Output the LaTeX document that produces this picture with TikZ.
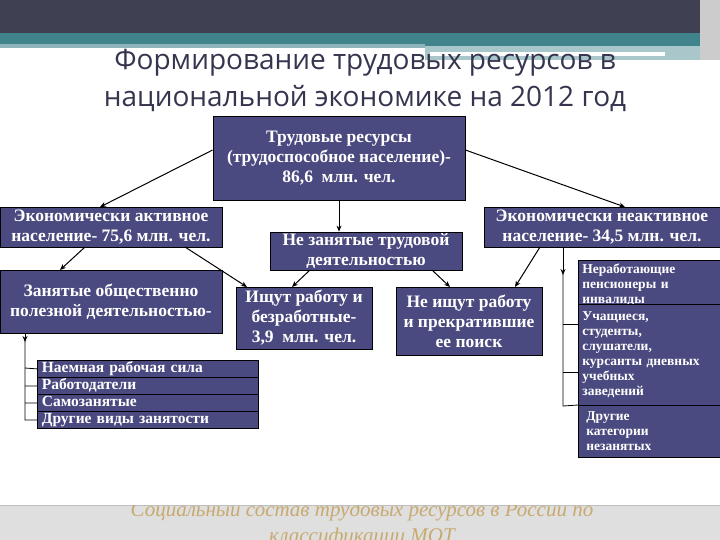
\documentclass[tikz,border=0pt]{standalone}
\usepackage{fontspec}
\setmainfont{Liberation Serif}
\newfontfamily\titlefont{Open Sans}
\usetikzlibrary{arrows.meta}
\definecolor{boxfill}{HTML}{4B4A80}
\definecolor{titlec}{HTML}{35354F}
\definecolor{topbar}{HTML}{3F4152}
\definecolor{teal}{HTML}{40838A}
\definecolor{gold}{HTML}{C8AA70}
\tikzset{
 bx/.style={draw=black,line width=0.8pt,fill=boxfill,text=white,font=\bfseries\fontsize{17.5}{20}\selectfont,align=center,inner sep=0pt},
 sm/.style={draw=black,line width=0.8pt,fill=boxfill,text=white,font=\bfseries\fontsize{13.5}{15}\selectfont,align=left,inner sep=3pt},
 ar/.style={-{Stealth[length=6pt,width=5pt]},line width=1pt},
 ln/.style={line width=0.8pt}
}
\begin{document}
\begin{tikzpicture}[x=1pt,y=-1pt]
\useasboundingbox (0,0) rectangle (720,540);
\fill[white] (0,0) rectangle (720,540);
\fill[topbar] (0,0) rectangle (706,33);
\fill[teal] (0,33) rectangle (706,46);
\fill[teal!60] (0,44) rectangle (425,48);
\fill[teal!45] (425,46) rectangle (706,60);
\fill[white] (430,52) rectangle (665,56);
\fill[gray!40] (700,0) rectangle (720,60);
\node[text=titlec,font=\titlefont\fontsize{28}{37}\selectfont,align=center] (title) at (365,80) {Формирование трудовых ресурсов в\\национальной экономике на 2012 год};
\fill[gray!25] (0,505) rectangle (720,540);
\draw[gray!50] (0,505) -- (720,505);
\begin{scope}
\clip (0,505) rectangle (720,540);
\node[text=gold,font=\itshape\fontsize{21}{26}\selectfont,align=center] (foot) at (362,524) {Социальный состав трудовых ресурсов в России по\\классификации МОТ};
\end{scope}
% boxes
\node[bx,minimum width=252,minimum height=84] (tr) at (339,158) {Трудовые ресурсы\\(трудоспособное население)-\\86,6 \ млн. чел.};
\node[bx,minimum width=222,minimum height=40] (act) at (111,227) {Экономически активное\\население- 75,6 млн. чел.};
\node[bx,minimum width=192,minimum height=38] (ne) at (366,251) {Не занятые трудовой\\деятельностью};
\node[bx,minimum width=236,minimum height=40] (inact) at (602,227) {Экономически неактивное\\население- 34,5 млн. чел.};
\node[bx,minimum width=222,minimum height=63] (emp) at (111,302) {Занятые общественно\\полезной деятельностью-};
\node[bx,minimum width=136,minimum height=62] (seek) at (304,318) {Ищут работу и\\безработные-\\3,9 \ млн. чел.};
\node[bx,minimum width=146,minimum height=68] (nseek) at (469,321) {Не ищут работу\\и прекратившие\\ее поиск};
% list
\foreach \t/\n [count=\i] in {Наемная рабочая сила/l1,Работодатели/l2,Самозанятые/l3,Другие виды занятости/l4}{
 \node[bx,anchor=north west,minimum width=221,minimum height=17,text width=212,text height=10,text depth=2,align=left,inner sep=0pt,inner xsep=4pt,font=\bfseries\fontsize{15.5}{15}\selectfont] (\n) at (37,{360+(\i-1)*17}) {\t};
}
% right column
\node[sm,anchor=north west,minimum width=142,minimum height=44,text width=134] (r1) at (578,260) {Неработающие\\пенсионеры и\\инвалиды};
\node[sm,anchor=north west,minimum width=142,minimum height=101,text width=134] (r2) at (578,304) {Учащиеся,\\студенты,\\слушатели,\\курсанты дневных\\учебных\\заведений};
\node[sm,anchor=north west,minimum width=142,minimum height=52,text width=134] (r3) at (578,405) {\hspace*{4pt}Другие\\\hspace*{4pt}категории\\\hspace*{4pt}незанятых};
% arrows
\draw[ar] (tr.west|-0,150) -- (100,207);
\draw[ar] (tr.east|-0,150) -- (625,207);
\draw[ar] (tr.south) -- (tr.south|-ne.north);
\draw[ar] (85,247) -- (60,270);
\draw[ar] (185,247) -- (247,287);
\draw[ar] (310,270) -- (292,287);
\draw[ar] (432,270) -- (450,287);
\draw[ar] (540,247) -- (515,287);
% left bracket
\coordinate (lb) at (25,333);
\draw[ar] (lb) -- (25,342);
\draw[ln] (25,340) -- (25,420) -- (l4.west);
\draw[ln] (25,368) -- (l1.west);
\draw[ln] (25,386) -- (l2.west);
\draw[ln] (25,403) -- (l3.west);
% right bracket
\coordinate (rb) at (563,247);
\draw[ar] (rb) -- (563,275);
\draw[ln] (563,273) -- (563,406) -- (r3.north west);
\draw[ln] (563,324) -- (578,324);
\draw[ln] (563,372) -- (578,372);
\end{tikzpicture}
\end{document}
